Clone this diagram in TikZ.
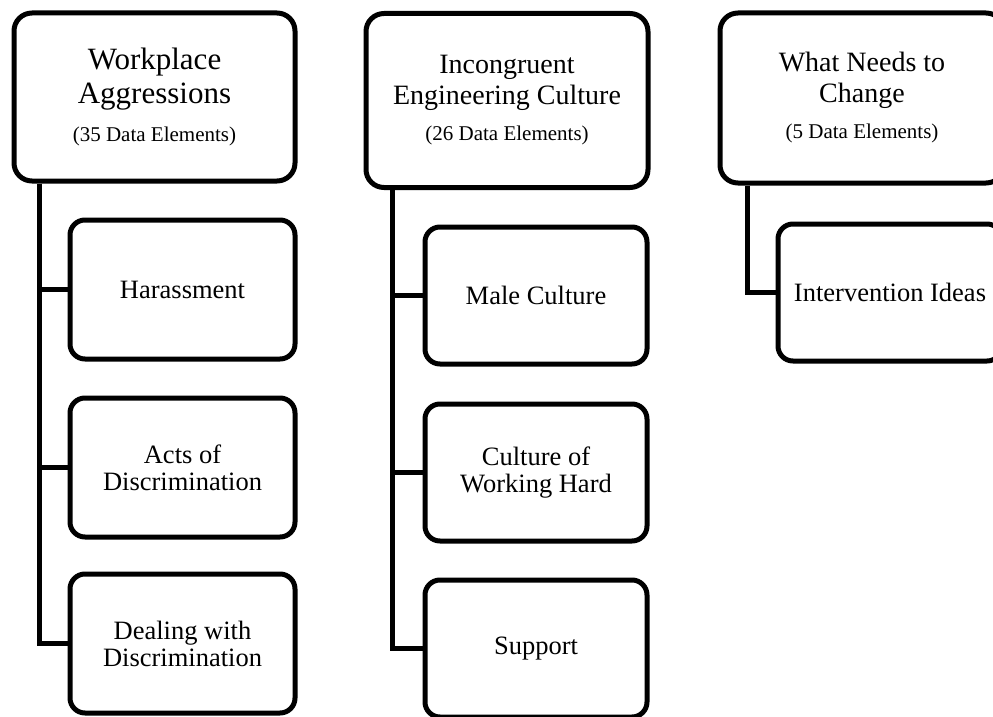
\documentclass[tikz,border=0pt]{standalone}
\usepackage{fontspec}
\setmainfont{Liberation Serif}
\usetikzlibrary{calc}
\begin{document}
\begin{tikzpicture}[x=1pt,y=-1pt,
  parentbox/.style={draw=black, line width=5pt, rounded corners=18pt, fill=white,
    align=center, inner sep=0pt, minimum width=#1},
  childbox/.style={draw=black, line width=5pt, rounded corners=15pt, fill=white,
    align=center, inner sep=0pt, minimum width=225pt, minimum height=139pt,
    font=\fontsize{26.5}{27}\selectfont},
  conn/.style={draw=black, line width=5pt, line join=miter}
]
\useasboundingbox (0,0) rectangle (993,717);
\clip (0,0) rectangle (993,717);

% column 1
\node[parentbox=281pt, minimum height=168pt, font=\fontsize{31}{34}\selectfont] (p1) at (154.5,97)
  {Workplace\\Aggressions\\[4pt]{\fontsize{21}{24}\selectfont (35 Data Elements)}};
\node[childbox] (c1a) at (182.5,289.5) {Harassment};
\node[childbox] (c1b) at (182.5,467.5) {Acts of\\Discrimination};
\node[childbox] (c1c) at (182.5,643.5) {Dealing with\\Discrimination};
\coordinate (t1) at ($(p1.south west)+(28,0)$);

% column 2
\node[parentbox=282pt, minimum height=174pt, font=\fontsize{28}{31}\selectfont] (p2) at (507,100.5)
  {Incongruent\\Engineering Culture\\[5pt]{\fontsize{21}{24}\selectfont (26 Data Elements)}};
\node[childbox, minimum width=222pt, minimum height=137pt] (c2a) at (536,295.5) {Male Culture};
\node[childbox, minimum width=222pt, minimum height=137pt] (c2b) at (536,472.5) {Culture of\\Working Hard};
\node[childbox, minimum width=222pt, minimum height=137pt] (c2c) at (536,648.5) {Support};
\coordinate (t2) at ($(p2.south west)+(29,0)$);

% column 3
\node[parentbox=284pt, minimum height=170pt, font=\fontsize{28}{31}\selectfont] (p3) at (862,98)
  {What Needs to\\Change\\[5pt]{\fontsize{21}{24}\selectfont (5 Data Elements)}};
\node[childbox, minimum width=224pt, minimum height=137pt] (c3a) at (890,292.5) {Intervention Ideas};
\coordinate (t3) at ($(p3.south west)+(30,0)$);

\draw[conn] (t1) |- (c1a.west);
\draw[conn] (t1) |- (c1b.west);
\draw[conn] (t1) |- (c1c.west);
\draw[conn] (t2) |- (c2a.west);
\draw[conn] (t2) |- (c2b.west);
\draw[conn] (t2) |- (c2c.west);
\draw[conn] (t3) |- (c3a.west);
\end{tikzpicture}
\end{document}
